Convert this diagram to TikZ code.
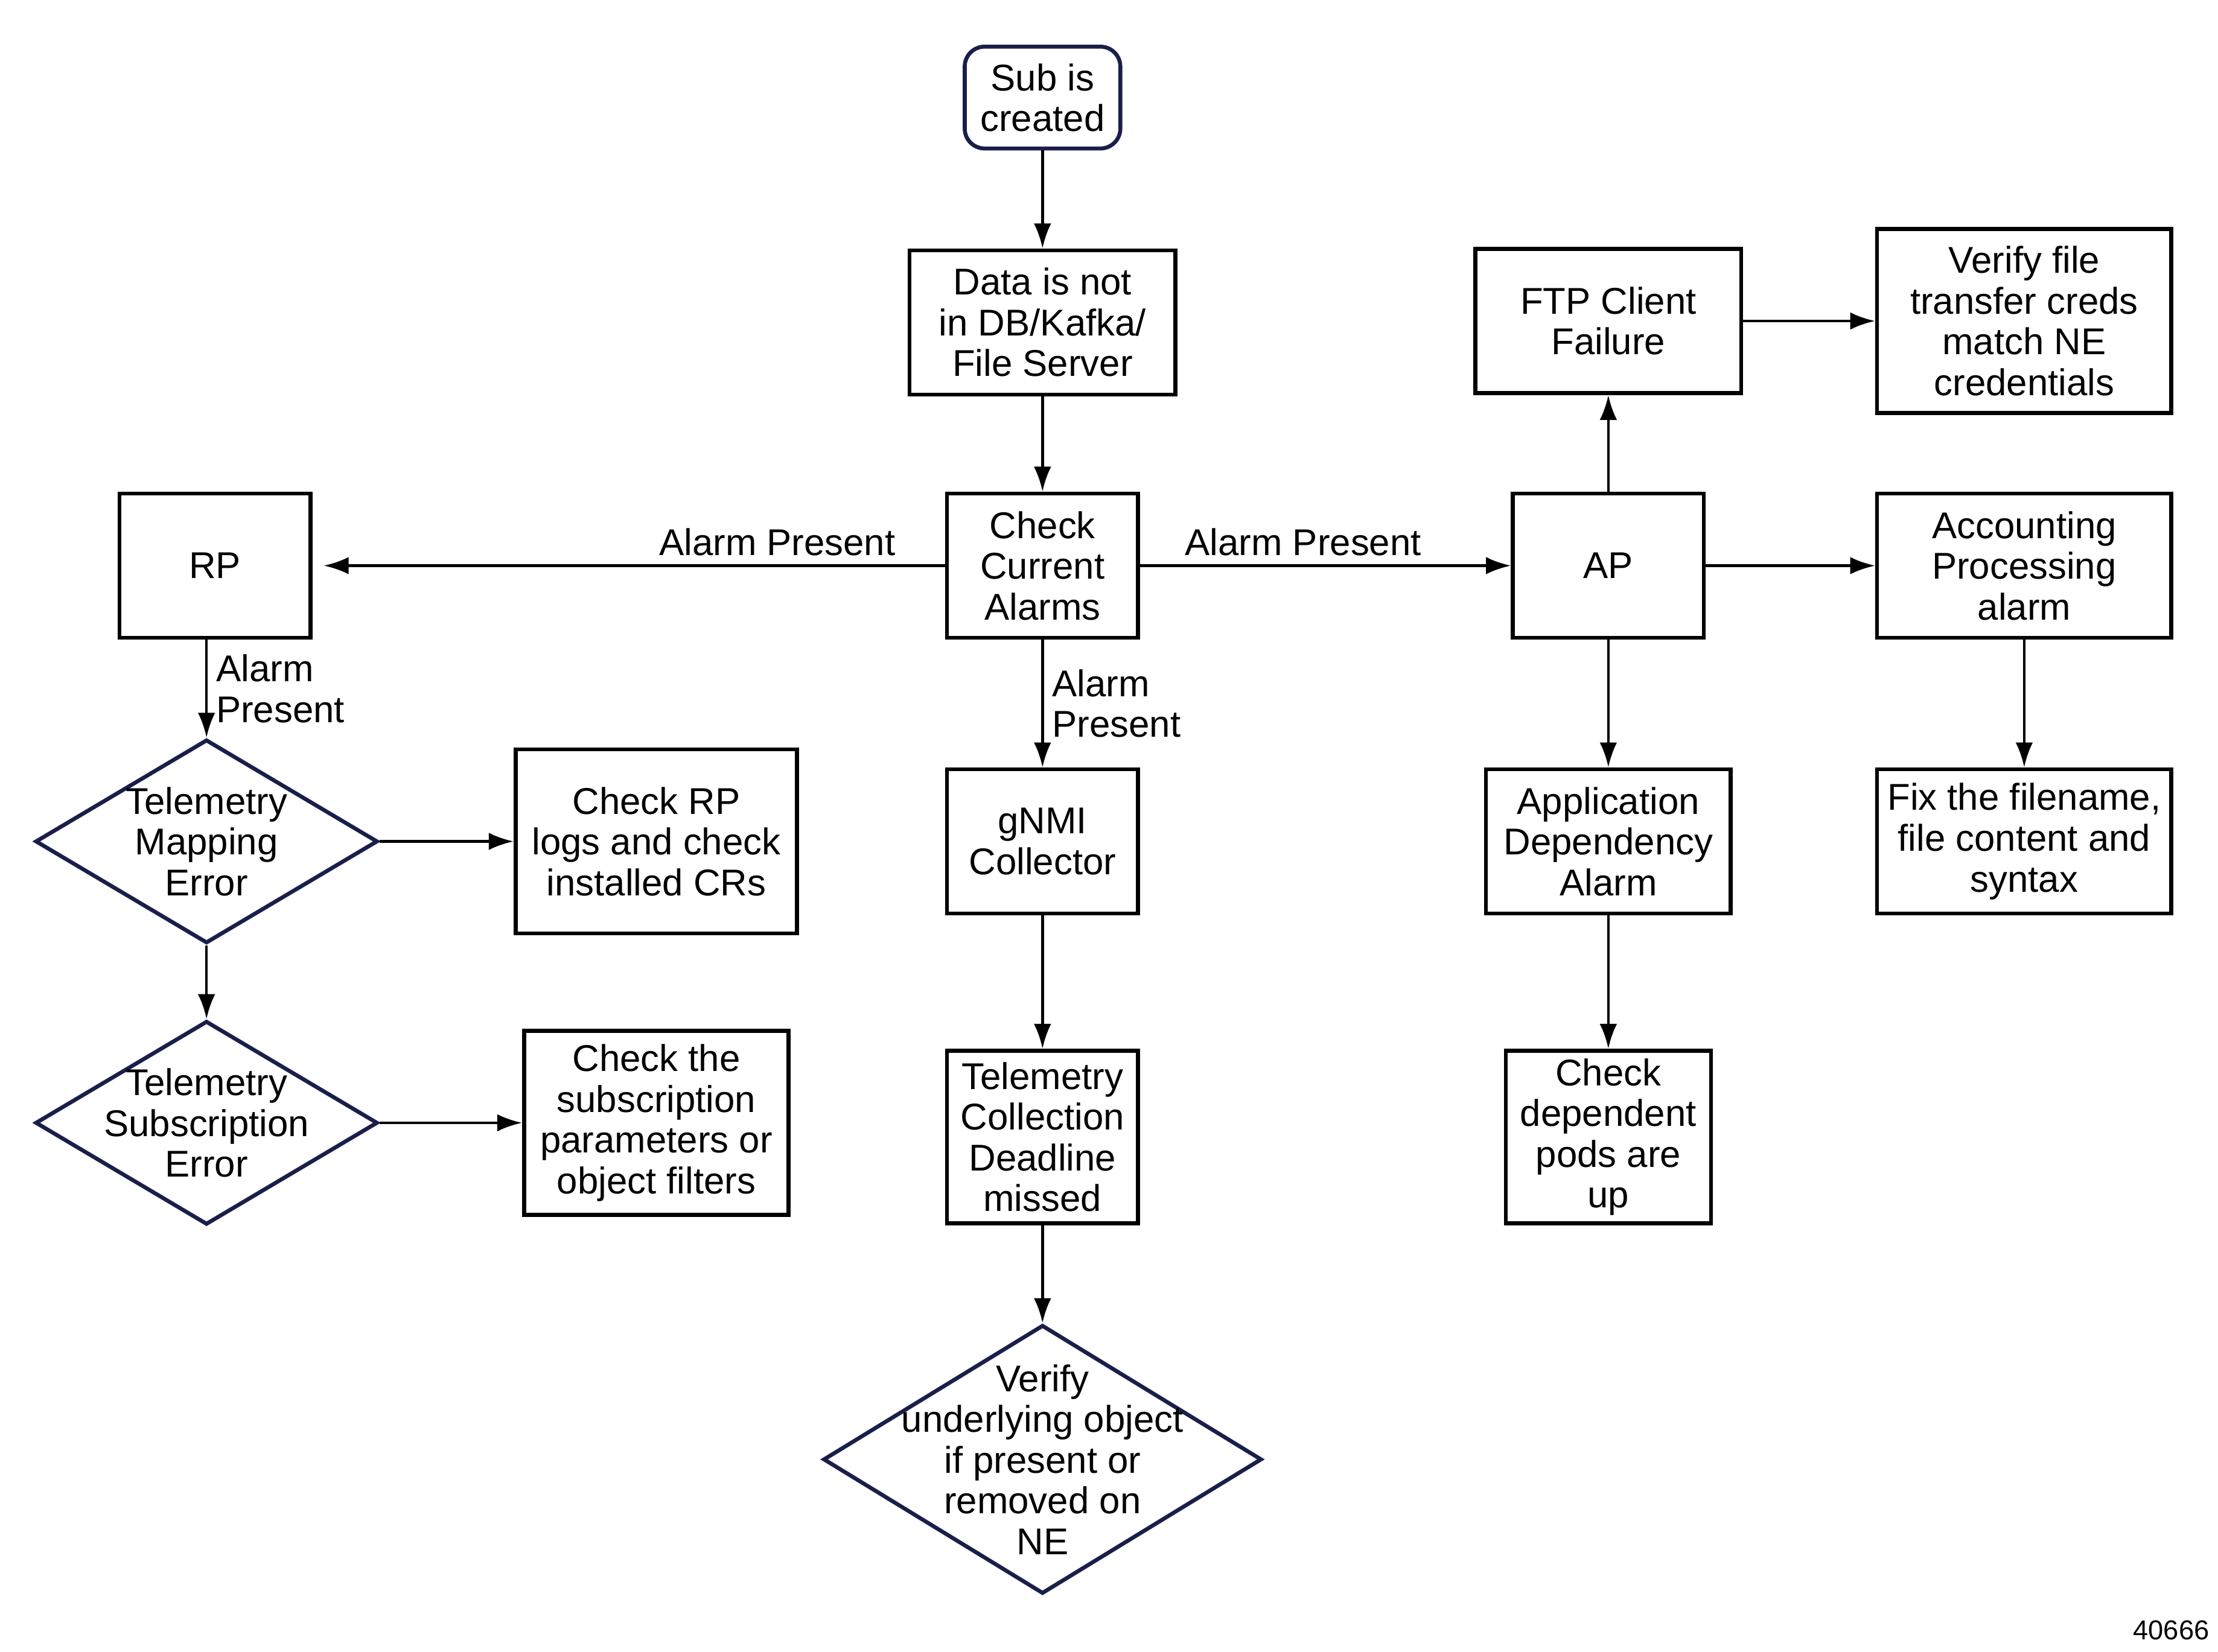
\documentclass[tikz,border=0pt]{standalone}
\usepackage{fontspec}
\setmainfont{Liberation Sans}
\usetikzlibrary{arrows.meta,shapes.geometric}
\definecolor{navy}{HTML}{1A1F4A}
\begin{document}
\begin{tikzpicture}[x=0.02cm,y=-0.02cm,
	box/.style={draw, line width=1.6pt, align=center, inner sep=0pt, font=\fontsize{15}{16.4}\selectfont},
	dia/.style={draw=navy, diamond, line width=1.6pt, inner sep=0pt},
	lbl/.style={font=\fontsize{15}{16.4}\selectfont, align=left},
	arr/.style={-{Latex[length=10pt,width=7pt]}, line width=1.1pt}]
	\useasboundingbox (0,0) rectangle (1568,1168);
	% centre column
	\node[box, draw=navy, rounded corners=8pt, minimum width=110*0.02cm, minimum height=72*0.02cm] (sub) at (737,69) {Sub is\\created};
	\node[box, minimum width=188*0.02cm, minimum height=102*0.02cm] (data) at (737,228) {Data is not\\in DB/Kafka/\\File Server};
	\node[box, minimum width=135*0.02cm, minimum height=102*0.02cm] (check) at (737,400) {Check\\Current\\Alarms};
	\node[box, minimum width=135*0.02cm, minimum height=102*0.02cm] (gnmi) at (737,595) {gNMI\\Collector};
	\node[box, minimum width=135*0.02cm, minimum height=122*0.02cm] (telcoll) at (737,804) {Telemetry\\Collection\\Deadline\\missed};
	\node[dia, minimum width=310*0.02cm, minimum height=190*0.02cm,
		label={[lbl, align=center]center:Verify\\underlying object\\if present or\\removed on\\NE}] (verify) at (737,1032) {};
	% left column
	\node[box, minimum width=135*0.02cm, minimum height=102*0.02cm] (rp) at (152,400) {RP};
	\node[dia, minimum width=242*0.02cm, minimum height=144*0.02cm,
		label={[lbl, align=center]center:Telemetry\\Mapping\\Error}] (mapping) at (146,595) {};
	\node[dia, minimum width=242*0.02cm, minimum height=144*0.02cm,
		label={[lbl, align=center]center:Telemetry\\Subscription\\Error}] (subscr) at (146,794) {};
	\node[box, minimum width=199*0.02cm, minimum height=130*0.02cm] (checkrp) at (464,595) {Check RP\\logs and check\\installed CRs};
	\node[box, minimum width=187*0.02cm, minimum height=130*0.02cm] (checksub) at (464,794) {Check the\\subscription\\parameters or\\object filters};
	% right columns
	\node[box, minimum width=135*0.02cm, minimum height=102*0.02cm] (ap) at (1137,400) {AP};
	\node[box, minimum width=188*0.02cm, minimum height=102*0.02cm] (ftp) at (1137,227) {FTP Client\\Failure};
	\node[box, minimum width=208*0.02cm, minimum height=130*0.02cm] (creds) at (1431,227) {Verify file\\transfer creds\\match NE\\credentials};
	\node[box, minimum width=208*0.02cm, minimum height=102*0.02cm] (acct) at (1431,400) {Accounting\\Processing\\alarm};
	\node[box, minimum width=208*0.02cm, minimum height=102*0.02cm] (fix) at (1431,595) {Fix the filename,\\file content and\\syntax};
	\node[box, minimum width=173*0.02cm, minimum height=102*0.02cm] (appdep) at (1137,595) {Application\\Dependency\\Alarm};
	\node[box, minimum width=145*0.02cm, minimum height=122*0.02cm] (checkdep) at (1137,804) {Check\\dependent\\pods are\\up};
	\node[font=\fontsize{11}{12}\selectfont, anchor=east] (fignum) at (1568,1153) {40666};
	% connectors
	\draw[arr] (sub) -- (data);
	\draw[arr] (data) -- (check);
	\draw[arr] (check) -- node[lbl, pos=0.27, above] {Alarm Present} ([xshift=8*0.02cm]rp.east);
	\draw[arr] (check) -- node[lbl, pos=0.44, above] {Alarm Present} (ap);
	\draw[arr] (check) -- node[lbl, right] {Alarm\\Present} (gnmi);
	\draw[arr] (gnmi) -- (telcoll);
	\draw[arr] (telcoll) -- (verify);
	\draw[arr] (rp.south -| mapping.north) -- node[lbl, right] {Alarm\\Present} (mapping);
	\draw[arr] (mapping) -- (subscr);
	\draw[arr] (mapping) -- (checkrp);
	\draw[arr] (subscr) -- (checksub);
	\draw[arr] (ap) -- (ftp);
	\draw[arr] (ftp) -- (creds);
	\draw[arr] (ap) -- (acct);
	\draw[arr] (acct) -- (fix);
	\draw[arr] (ap) -- (appdep);
	\draw[arr] (appdep) -- (checkdep);
\end{tikzpicture}
\end{document}
